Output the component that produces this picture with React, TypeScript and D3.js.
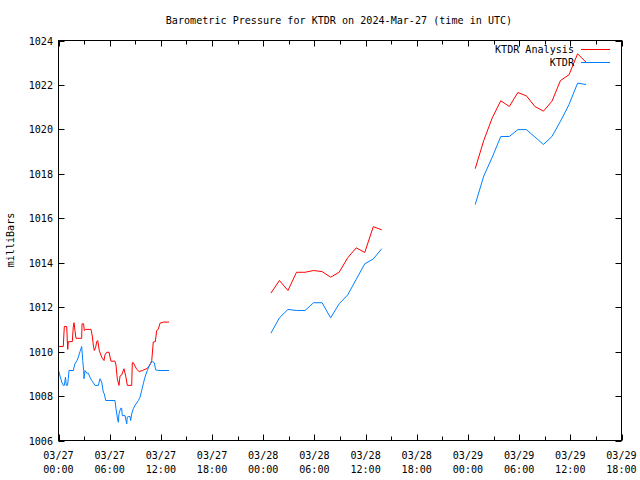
import React from "react";
import * as d3 from "d3";

const TITLE = "Barometric Pressure for KTDR on 2024-Mar-27 (time in UTC)";
const Y_LABEL = "milliBars";
const SERIES_NAMES = ["KTDR Analysis", "KTDR"];
const SERIES_COLORS = ["#ff0000", "#0080ff"];
const Y_TICKS = [1006, 1008, 1010, 1012, 1014, 1016, 1018, 1020, 1022, 1024];
const X_TICK_HOURS = [0, 6, 12, 18, 24, 30, 36, 42, 48, 54, 60, 66];

// hours after 2024-03-27 00:00 UTC, value in mb
const analysisSeg1: [number, number][] = [
  [0, 1010.23], [0.56, 1010.23], [0.68, 1011.13], [0.96, 1011.13], [1.08, 1010.1],
  [1.15, 1010.45], [1.62, 1010.45], [1.73, 1011.1], [1.82, 1011.3], [1.93, 1010.95],
  [2.05, 1010.6], [2.72, 1010.6], [2.76, 1011.25], [2.95, 1011.25], [3.02, 1010.95],
  [3.19, 1011.0], [3.81, 1011.0], [3.96, 1010.7], [4.08, 1010.3], [4.2, 1010.05],
  [4.36, 1010.2], [4.48, 1010.45], [4.6, 1010.5], [4.78, 1010.05], [5.06, 1009.75],
  [5.33, 1009.6], [5.45, 1009.85], [5.65, 1009.97], [5.92, 1009.97], [6.15, 1009.57],
  [6.62, 1009.57], [6.74, 1009.4], [6.89, 1008.78], [7.09, 1008.48], [7.21, 1008.9],
  [7.41, 1008.95], [7.68, 1009.23], [7.88, 1008.9], [8.07, 1008.48], [8.58, 1008.48],
  [8.65, 1009.5], [8.77, 1009.5], [8.97, 1009.35], [9.17, 1009.2], [9.47, 1009.1],
  [9.82, 1009.15], [10.14, 1009.2], [10.41, 1009.25], [10.73, 1009.4], [10.93, 1009.6],
  [11.11, 1010.43], [11.35, 1010.45], [11.51, 1010.95], [11.7, 1011.0], [11.9, 1011.28],
  [12.29, 1011.33], [12.96, 1011.33],
];

const obsSeg1: [number, number][] = [
  [0, 1009.15], [0.18, 1008.9], [0.38, 1008.63], [0.56, 1008.48], [0.68, 1008.48],
  [0.82, 1008.85], [0.91, 1008.48], [1.05, 1008.48], [1.15, 1008.78], [1.23, 1009.15],
  [1.74, 1009.15], [1.82, 1009.3], [1.93, 1009.45], [2.17, 1009.6], [2.32, 1009.75],
  [2.52, 1010.0], [2.72, 1010.23], [2.84, 1009.6], [2.95, 1009.15], [2.99, 1008.78],
  [3.11, 1009.15], [3.31, 1009.03], [3.49, 1009.03], [3.69, 1008.85], [3.89, 1008.7],
  [4.16, 1008.55], [4.28, 1008.48], [4.67, 1008.48], [4.87, 1008.78], [5.06, 1008.63],
  [5.25, 1008.18], [5.37, 1008.1], [5.45, 1007.95], [5.53, 1007.8], [6.62, 1007.8],
  [6.74, 1007.43], [6.89, 1007.05], [7.01, 1006.82], [7.09, 1007.2], [7.29, 1007.45],
  [7.41, 1007.45], [7.48, 1007.12], [7.8, 1007.12], [8.0, 1006.75], [8.06, 1007.05],
  [8.18, 1007.08], [8.38, 1007.08], [8.46, 1006.9], [8.58, 1007.2], [8.77, 1007.43],
  [8.97, 1007.58], [9.36, 1007.8], [9.56, 1007.95], [9.75, 1008.25], [9.94, 1008.55],
  [10.14, 1008.85], [10.41, 1009.15], [10.73, 1009.45], [11.0, 1009.55], [11.23, 1009.5],
  [11.39, 1009.18], [11.7, 1009.15], [12.96, 1009.15],
];

const seg2Hours = [24.9, 25.9, 26.9, 27.9, 28.9, 29.9, 30.9, 31.9, 32.9, 33.9, 34.9, 35.9, 36.9, 37.9];
const analysisSeg2 = [1012.63, 1013.2, 1012.75, 1013.57, 1013.57, 1013.65, 1013.6, 1013.35, 1013.57, 1014.22, 1014.67, 1014.46, 1015.62, 1015.48];
const obsSeg2 = [1010.83, 1011.52, 1011.9, 1011.85, 1011.85, 1012.2, 1012.2, 1011.52, 1012.15, 1012.55, 1013.25, 1013.95, 1014.17, 1014.63];

const seg3Hours = [48.85, 49.85, 50.85, 51.85, 52.85, 53.85, 54.85, 55.85, 56.85, 57.85, 58.85, 59.85, 60.85, 61.85];
const analysisSeg3 = [1018.23, 1019.5, 1020.52, 1021.29, 1021.03, 1021.66, 1021.51, 1021.03, 1020.82, 1021.27, 1022.2, 1022.46, 1023.4, 1023.02];
const obsSeg3 = [1016.62, 1017.9, 1018.75, 1019.68, 1019.68, 1019.99, 1019.99, 1019.66, 1019.32, 1019.68, 1020.37, 1021.12, 1022.08, 1022.02];

const T0 = Date.UTC(2024, 2, 27, 0, 0);
const toDate = (h: number) => new Date(T0 + h * 3600 * 1000);
const zip = (hs: number[], vs: number[]): [number, number][] => hs.map((h, i) => [h, vs[i]]);

const analysisSegments = [analysisSeg1, zip(seg2Hours, analysisSeg2), zip(seg3Hours, analysisSeg3)];
const obsSegments = [obsSeg1, zip(seg2Hours, obsSeg2), zip(seg3Hours, obsSeg3)];

const W = 640, H = 480;
const L = 58.5, R = 621.5, T = 40.5, B = 440.5;
const FONT = "'DejaVu Sans Mono', monospace";
const FS = 10.1;

export default function App() {
  const x = d3.scaleUtc().domain([toDate(0), toDate(66)]).range([L, R]);
  const y = d3.scaleLinear().domain([1006, 1024]).range([B, T]);
  const line = d3
    .line<[number, number]>()
    .x((d) => x(toDate(d[0])))
    .y((d) => y(d[1]));
  const fmtDate = d3.utcFormat("%m/%d");
  const fmtTime = d3.utcFormat("%H:%M");
  const minorTicks = d3.range(0, 67, 3);

  return (
    <svg width={W} height={H} style={{ position: "absolute", left: 0, top: 0, background: "#fff" }} fontFamily={FONT} fontSize={FS}>
      <rect x={0} y={0} width={W} height={H} fill="#fff" />
      <text x={339} y={24} textAnchor="middle">{TITLE}</text>
      <text transform={`translate(14,240) rotate(-90)`} textAnchor="middle">{Y_LABEL}</text>

      {Y_TICKS.map((v) => (
        <g key={v}>
          <line x1={L} x2={L + 6} y1={Math.round(y(v)) + 0.5} y2={Math.round(y(v)) + 0.5} stroke="#000" />
          <line x1={R - 6} x2={R} y1={Math.round(y(v)) + 0.5} y2={Math.round(y(v)) + 0.5} stroke="#000" />
          <text x={53} y={y(v) + 4} textAnchor="end">{v}</text>
        </g>
      ))}
      {minorTicks.map((h) => {
        const px = Math.round(x(toDate(h))) + 0.5;
        const len = h % 6 === 0 ? 6 : 4;
        return (
          <g key={h}>
            <line x1={px} x2={px} y1={B} y2={B - len} stroke="#000" />
            <line x1={px} x2={px} y1={T} y2={T + len} stroke="#000" />
          </g>
        );
      })}
      {X_TICK_HOURS.map((h) => (
        <g key={h}>
          <text x={x(toDate(h))} y={459} textAnchor="middle">{fmtDate(toDate(h))}</text>
          <text x={x(toDate(h))} y={473} textAnchor="middle">{fmtTime(toDate(h))}</text>
        </g>
      ))}

      {analysisSegments.map((s, i) => (
        <path key={"a" + i} d={line(s) || ""} fill="none" stroke={SERIES_COLORS[0]} strokeWidth={1} />
      ))}
      {obsSegments.map((s, i) => (
        <path key={"o" + i} d={line(s) || ""} fill="none" stroke={SERIES_COLORS[1]} strokeWidth={1} />
      ))}

      <rect x={L} y={T} width={R - L} height={B - T} fill="none" stroke="#000" strokeWidth={1} />

      {SERIES_NAMES.map((n, i) => (
        <g key={n}>
          <text x={574} y={53 + i * 13} textAnchor="end">{n}</text>
          <line x1={581} x2={610} y1={49.5 + i * 13} y2={49.5 + i * 13} stroke={SERIES_COLORS[i]} />
        </g>
      ))}
    </svg>
  );
}
